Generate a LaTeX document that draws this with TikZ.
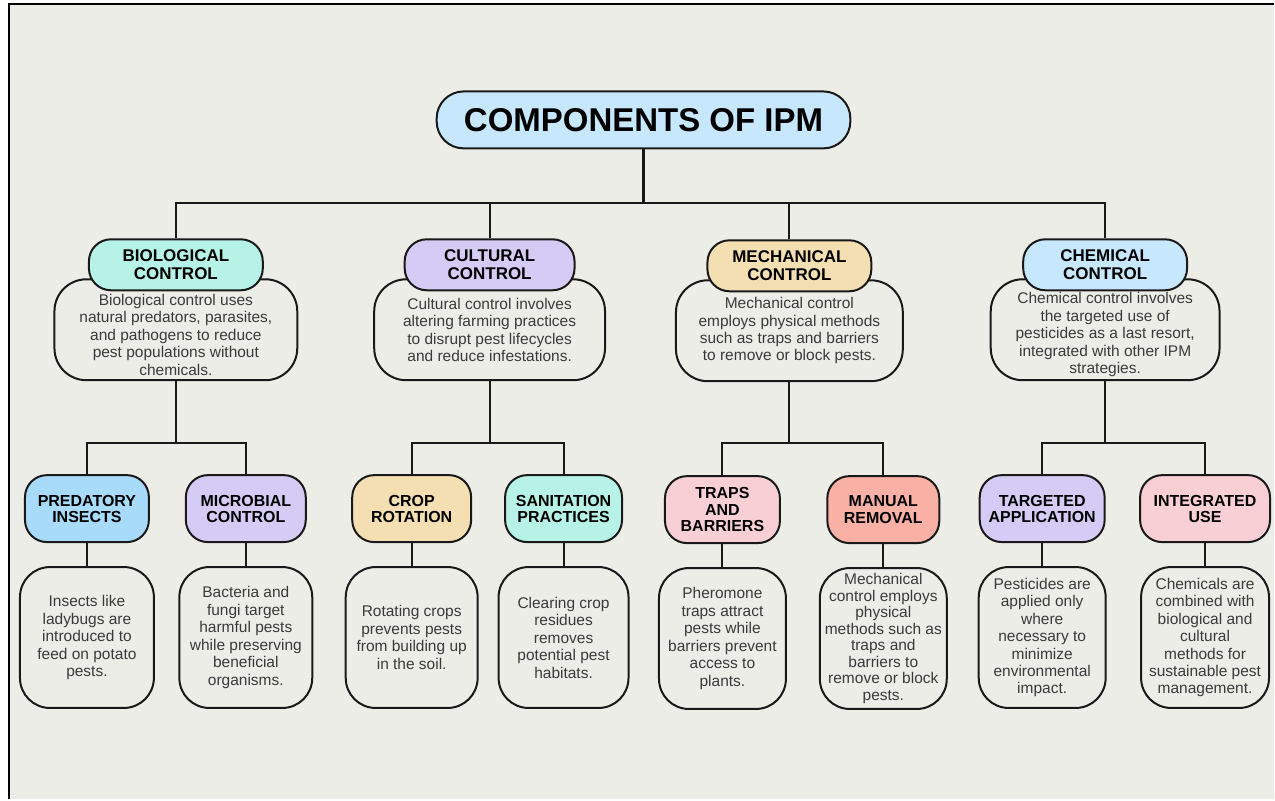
\documentclass[tikz,border=0pt]{standalone}
\usepackage{fontspec}
\setmainfont{Liberation Sans}
\usepackage{xcolor}
\usetikzlibrary{positioning}

\definecolor{paper}{HTML}{EDEDE8}
\definecolor{skyfill}{HTML}{C6E7FC}
\definecolor{bluefill}{HTML}{A8DBFA}
\definecolor{mintfill}{HTML}{B6F3E6}
\definecolor{lavfill}{HTML}{D4CCF4}
\definecolor{tanfill}{HTML}{F3DFB2}
\definecolor{pinkfill}{HTML}{F8CFD4}
\definecolor{salmonfill}{HTML}{F8B1A4}
\definecolor{inkgray}{HTML}{3A3A3A}
\newcommand{\toplift}{\rule{0pt}{21pt}}

\begin{document}
\begin{tikzpicture}[x=1pt,y=-1pt,line width=2pt,node distance=129pt,on grid,
	    title/.style={draw=black!90,fill=skyfill,rounded corners=27pt,minimum width=414pt,minimum height=57pt,inner sep=0pt,font=\fontsize{33}{36}\selectfont\bfseries},
	    cathead/.style={draw=black!90,rounded corners=22pt,minimum height=51pt,inner sep=0pt,align=center,font=\fontsize{17}{18.3}\selectfont\bfseries},
	    catbox/.style={draw=black!90,fill=paper,rounded corners=32pt,minimum height=101pt,inner sep=0pt,align=center,text=inkgray,font=\fontsize{15.5}{17.5}\selectfont},
	    kidhead/.style={draw=black!90,rounded corners=22pt,minimum height=67pt,inner sep=0pt,align=center,font=\fontsize{16}{16.2}\selectfont\bfseries},
	    kidbox/.style={draw=black!90,fill=paper,rounded corners=30pt,minimum height=141pt,inner sep=0pt,align=center,text=inkgray,font=\fontsize{15.5}{17.5}\selectfont}]
	    	\tikzstyle{wire}=[draw=black!90,line width=2pt]

	    % page and frame
	    \fill[white] (0,0) rectangle (1275,800);
	    \fill[paper] (9,4) rectangle (1275,800);
	    \draw[line width=2pt] (9,800) -- (9,4) -- (1275,4);
	    \useasboundingbox (0,0) rectangle (1275,800);

	    \node[title] (ipm) at (644,120) {COMPONENTS OF IPM};

	    % the four controls
	    \node[catbox,minimum width=243pt] (biotxt)  at (176,330)  {\toplift Biological control uses\\natural predators, parasites,\\and pathogens to reduce\\pest populations without\\chemicals.};
	    \node[cathead,fill=mintfill,minimum width=174pt] (bio) [above=65pt of biotxt] {BIOLOGICAL\\CONTROL};
	    \node[catbox,minimum width=231pt] (cultxt)  at (490,330)  {Cultural control involves\\altering farming practices\\to disrupt pest lifecycles\\and reduce infestations.};
	    \node[cathead,fill=lavfill,minimum width=170pt] (cul) [above=65pt of cultxt] {CULTURAL\\CONTROL};
	    \node[catbox,minimum width=227pt] (mechtxt) at (790,331)  {Mechanical control\\employs physical methods\\such as traps and barriers\\to remove or block pests.};
	    \node[cathead,fill=tanfill,minimum width=164pt] (mech) [above=65pt of mechtxt] {MECHANICAL\\CONTROL};
	    \node[catbox,minimum width=229pt] (chemtxt) at (1106,330) {\toplift Chemical control involves\\the targeted use of\\pesticides as a last resort,\\integrated with other IPM\\strategies.};
	    \node[cathead,fill=skyfill,minimum width=164pt] (chem) [above=65pt of chemtxt] {CHEMICAL\\CONTROL};

	    % second level
	    \node[kidhead,fill=bluefill,minimum width=124pt]   (pred)   at (87,509)   {PREDATORY\\INSECTS};
	    \node[kidbox,minimum width=134pt]                  (predtxt)   [below=of pred]   {Insects like\\ladybugs are\\introduced to\\feed on potato\\pests.};
	    \node[kidhead,fill=lavfill,minimum width=120pt]    (micro)  at (246,509)  {MICROBIAL\\CONTROL};
	    \node[kidbox,minimum width=133pt]                  (microtxt)  [below=of micro]  {Bacteria and\\fungi target\\harmful pests\\while preserving\\beneficial\\organisms.};
	    \node[kidhead,fill=tanfill,minimum width=119pt]    (crop)   at (412,509)  {CROP\\ROTATION};
	    \node[kidbox,minimum width=132pt]                  (croptxt)   [below=of crop]   {Rotating crops\\prevents pests\\from building up\\in the soil.};
	    \node[kidhead,fill=mintfill,minimum width=117pt]   (sanit)  at (564,509)  {SANITATION\\PRACTICES};
	    \node[kidbox,minimum width=130pt]                  (sanittxt)  [below=of sanit]  {Clearing crop\\residues\\removes\\potential pest\\habitats.};
	    \node[kidhead,fill=pinkfill,minimum width=115pt]   (traps)  at (723,510)  {TRAPS\\AND\\BARRIERS};
	    \node[kidbox,minimum width=127pt]                  (trapstxt)  [below=of traps]  {Pheromone\\traps attract\\pests while\\barriers prevent\\access to\\plants.};
	    \node[kidhead,fill=salmonfill,minimum width=112pt] (manual) at (884,510)  {MANUAL\\REMOVAL};
	    \node[kidbox,minimum width=127pt,font=\fontsize{15.5}{16.6}\selectfont] (manualtxt) [below=of manual] {Mechanical\\control employs\\physical\\methods such as\\traps and\\barriers to\\remove or block\\pests.};
	    \node[kidhead,fill=lavfill,minimum width=125pt]    (target) at (1043,509) {TARGETED\\APPLICATION};
	    \node[kidbox,minimum width=127pt]                  (targettxt) [below=of target] {Pesticides are\\applied only\\where\\necessary to\\minimize\\environmental\\impact.};
	    \node[kidhead,fill=pinkfill,minimum width=130pt]   (integ)  at (1206,509) {INTEGRATED\\USE};
	    \node[kidbox,minimum width=128pt]                  (integtxt)  [below=of integ]  {Chemicals are\\combined with\\biological and\\cultural\\methods for\\sustainable pest\\management.};

	    % connectors
	    \coordinate (bus)    at (0,203);
	    \coordinate (kidbus) at (0,443);
	    \draw[wire,line width=3.5pt] (ipm.south) -- (ipm.south |- bus);
	    \draw[wire] (bio.north) |- (chem.north |- bus) -- (chem.north);
	    \draw[wire] (cul.north) -- (cul.north |- bus);
	    \draw[wire] (mech.north) -- (mech.north |- bus);

	    \foreach \top/\left/\right in {biotxt/pred/micro,cultxt/crop/sanit,mechtxt/traps/manual,chemtxt/target/integ}
	    {
	      \draw[wire] (\top.south) -- (\top.south |- kidbus);
	      \draw[wire] (\left.north) |- (\right.north |- kidbus) -- (\right.north);
	    }
	    \foreach \kid in {pred,micro,crop,sanit,traps,manual,target,integ}
	      \draw[wire] (\kid.south) -- (\kid txt.north);

	    	\end{tikzpicture}
\end{document}
